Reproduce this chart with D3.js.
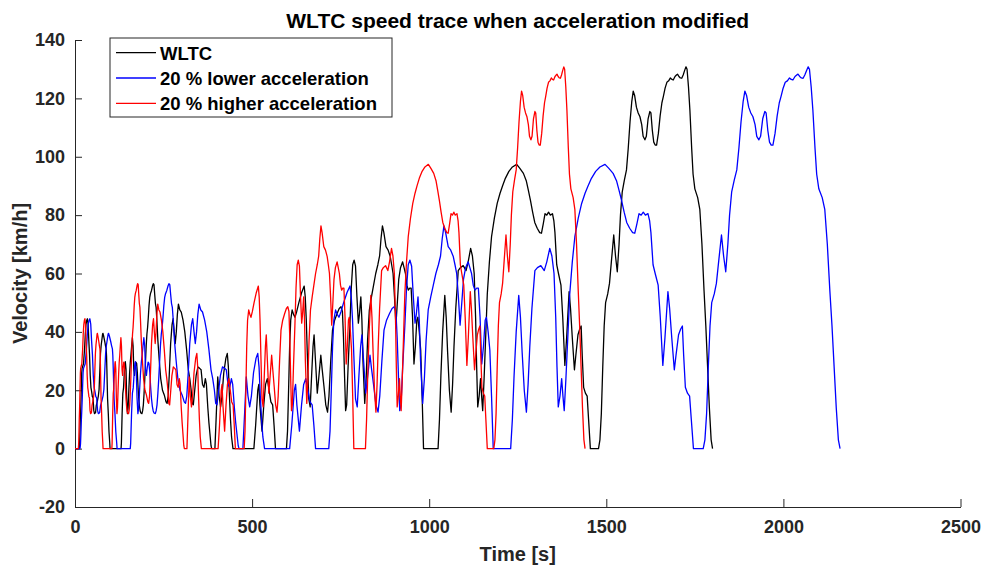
<!DOCTYPE html>
<html>
<head>
<meta charset="utf-8">
<script src="https://cdn.jsdelivr.net/npm/d3@7"></script>
<style>
  body { margin: 0; background: #fff; }
  text { font-family: "Liberation Sans", Arial, Helvetica, sans-serif; }
</style>
</head>
<body>
<script>
// WLTC class 3 speed trace: [time s, speed km/h]
const wltcTrace = [
  [0,0],[11,0],[12,0.2],[13,1.7],[14,5.4],[15,9.9],[16,13.1],[17,16.9],[18,21.7],[19,26],[20,27.5],
  [22,28.3],[24,29.1],[25,30.8],[27,34.1],[29,39.1],[31,42.5],[33,43.9],[35,44.5],[37,42.7],[39,37],
  [41,32.3],[43,25.1],[45,20.9],[47,19.5],[49,17.8],[51,17.4],[53,13.1],[55,12],[58,12.3],[60,14.7],
  [63,16.2],[66,18.1],[68,20.3],[70,26.5],[72,32.6],[74,35.5],[76,37.4],[78,39.3],[79,39.5],[81,38.5],
  [84,36.7],[86,35.3],[88,34.2],[89,31.9],[90,27.3],[91,22],[92,17],[94,12],[96,5.8],[98,2.2],[99,0],
  [130,0],[131,1.9],[133,11.7],[135,18.9],[137,20.8],[139,25.4],[141,29.2],[142,29.8],[144,27.2],
  [146,17.3],[148,12],[150,14.1],[152,20.1],[154,25.5],[156,29.5],[158,32.1],[160,35.2],[162,38],
  [164,35.1],[166,27.1],[168,25.1],[170,27.8],[172,29.6],[174,29.2],[176,26.1],[178,21],[180,17.1],
  [182,14.5],[184,12.9],[186,12.2],[189,12],[191,13],[193,15],[195,19],[197,23.8],[199,29.6],[201,35.2],
  [203,39.2],[205,41.6],[207,45],[209,49],[211,51.8],[213,53.1],[216,54.2],[219,55.8],[221,56.5],
  [223,56.2],[225,52.9],[227,49.8],[229,48.4],[231,44.3],[234,37],[238,30],[242,24],[247,20],[252,18.4],
  [257,16],[260,15.5],[263,18],[266,25],[270,36],[274,42.5],[277,44.5],[280,40],[283,36],[286,40],
  [289,46],[292,49.5],[296,47.5],[300,46.8],[305,44],[310,40],[315,34],[320,27],[324,24],[328,20],
  [331,15.5],[334,15],[338,20],[342,25],[347,28],[352,27.5],[356,27],[360,22],[364,21],[368,24],
  [371,22],[375,14],[378,9],[381,5],[384,1],[386,0],[395,0],[399,12],[403,24.6],[407,18],[411,14.3],
  [415,18],[420,26],[426,31],[430,32.6],[433,28],[436,18],[439,10],[442,4],[446,0],[505,0],[510,8],
  [516,20],[519,22],[522,15],[528,6],[533,15],[538,22],[543,24],[548,20],[553,16],[558,15],[562,8],
  [566,0],[597,0],[600,6],[603,20],[606,35],[609,44],[613,47.5],[617,46],[621,45],[626,47],[632,50],
  [640,53.5],[647,55.7],[650,52],[653,44],[656,32],[660,17],[664,14.3],[668,25],[672,35],[675,39],
  [679,30],[684,19],[688,24],[694,32],[698,27],[703,21.2],[708,15],[713,12.5],[717,18],[722,30],
  [727,40.6],[733,44],[740,46.3],[746,48],[751,48.6],[755,47],[758,38],[761,25],[764,13],[767,15],
  [771,28],[776,42],[780,55],[784,63],[788,64.6],[792,62.5],[796,52],[800,43],[803,46],[807,52],
  [810,44],[813,30],[818,15.5],[822,24],[826,37],[831,47.5],[837,52],[843,56],[849,60],[855,63],
  [860,66],[864,72],[868,76.3],[872,74],[878,69.2],[884,68],[890,65.8],[894,63],[898,60],[902,52],
  [906,42.3],[910,50],[914,58],[919,62],[925,64],[929,62],[933,60],[937,56],[941,54.3],[945,55],
  [949,55],[953,45],[957,29],[961,35],[965,44],[968,45],[972,40],[976,33.8],[980,18],[984,0],
  [1025,0],[1029,10],[1033,25],[1038,40],[1044,52.5],[1048,45],[1052,33],[1057,20],[1062,12.5],
  [1066,22],[1070,35],[1075,48],[1082,61],[1088,62],[1096,62.7],[1104,61],[1110,64],[1117,68.6],
  [1122,66],[1127,60],[1131,45],[1134,28],[1137,14.3],[1141,18],[1145,24],[1148,18],[1151,13],
  [1155,24],[1160,40],[1164,53],[1170,64],[1176,72.6],[1184,79],[1192,84],[1200,87.5],[1207,90],
  [1215,92.6],[1225,95],[1235,96.5],[1247,97.4],[1256,96],[1266,94.3],[1274,91.8],[1280,88.5],
  [1286,85],[1292,81],[1298,77.5],[1305,75.5],[1312,74],[1317,73.8],[1322,77],[1327,80.5],[1332,80],
  [1337,81],[1342,80],[1348,80.5],[1352,78],[1355,74],[1360,63],[1365,60],[1372,56],[1377,45],
  [1383,28.5],[1388,38],[1395,53.8],[1399,48],[1404,38],[1410,27],[1414,32],[1420,39],[1425,41],
  [1429,42],[1432,32],[1436,21],[1441,19],[1446,18],[1450,10],[1455,0],[1478,0],[1482,3],[1486,12],
  [1490,28],[1494,42],[1498,50],[1504,53],[1509,56.6],[1515,65],[1521,73.2],[1526,66],[1531,60.6],
  [1536,70],[1540,80],[1545,88],[1551,92],[1557,95.5],[1562,103],[1567,112],[1572,119],[1576,122.5],
  [1580,121],[1585,117],[1590,115],[1595,113.7],[1600,111],[1604,107],[1609,105.8],[1613,107],
  [1618,113],[1623,115.5],[1626,115],[1630,109],[1634,105],[1638,104],[1642,104],[1647,108],
  [1652,114],[1657,118.5],[1661,120.6],[1666,123.5],[1671,125.5],[1676,126],[1681,127],[1685,126.5],
  [1689,126.3],[1694,127.5],[1698,128],[1701,128.3],[1705,127.5],[1709,127],[1713,126.9],[1717,128],
  [1721,129.5],[1725,130.8],[1728,130],[1732,124],[1736,116],[1741,103],[1745,94],[1750,89],
  [1758,86],[1764,82],[1770,70],[1776,54],[1781,42],[1786,28],[1791,14],[1796,3],[1800,0]
];

// the modified traces are the same speeds on a stretched / squeezed time axis
// (blue ends at 2160 s, red at 1440 s)
const seriesNames = ["WLTC", "20 % lower acceleration", "20 % higher acceleration"];
const seriesTimeFactor = [1, 1.2, 0.8];
const seriesColors = ["#000000", "#0000ff", "#ff0000"];

const xTicks = [0, 500, 1000, 1500, 2000, 2500];
const yTicks = [-20, 0, 20, 40, 60, 80, 100, 120, 140];

const margin = { top: 40, right: 23.5, bottom: 59, left: 75 };
const width = 984 - margin.left - margin.right;
const height = 566 - margin.top - margin.bottom;
const axisColor = "#262626";

const svg = d3
  .select("body")
  .append("svg")
  .attr("width", 984)
  .attr("height", 566);

const g = svg
  .append("g")
  .attr("transform", "translate(" + margin.left + "," + margin.top + ")");

const x = d3.scaleLinear().domain([0, 2500]).range([0, width]);
const y = d3.scaleLinear().domain([-20, 140]).range([height, 0]);

// axes, MATLAB style: ticks pointing inwards, no box, plain number labels
const xAxis = g
  .append("g")
  .attr("transform", "translate(0," + height + ")")
  .call(
    d3.axisBottom(x)
      .tickValues(xTicks)
      .tickFormat((d) => String(d))
      .tickSizeInner(-8)
      .tickSizeOuter(0)
      .tickPadding(13)
  );

const yAxis = g
  .append("g")
  .call(
    d3.axisLeft(y)
      .tickValues(yTicks)
      .tickFormat((d) => String(d))
      .tickSizeInner(-7)
      .tickSizeOuter(0)
      .tickPadding(10)
  );

[xAxis, yAxis].forEach(function (ax) {
  ax.select(".domain").attr("stroke", axisColor).attr("stroke-width", 1);
  ax.selectAll(".tick line").attr("stroke", axisColor).attr("stroke-width", 1);
  ax.selectAll(".tick text")
    .attr("fill", axisColor)
    .style("font-size", "18px")
    .style("font-weight", "bold");
});

// traces
const line = d3
  .line()
  .x((d) => d[0])
  .y((d) => y(d[1]));

seriesNames.forEach(function (name, i) {
  const pts = wltcTrace.map((p) => [x(p[0] * seriesTimeFactor[i]), p[1]]);
  g.append("path")
    .datum(pts)
    .attr("d", line)
    .attr("fill", "none")
    .attr("stroke", seriesColors[i])
    .attr("stroke-width", 1.3)
    .attr("stroke-linejoin", "round");
});

// title and labels
svg
  .append("text")
  .attr("x", margin.left + width / 2)
  .attr("y", 28)
  .attr("text-anchor", "middle")
  .style("font-size", "21px")
  .style("font-weight", "bold")
  .attr("fill", "#000")
  .text("WLTC speed trace when acceleration modified");

svg
  .append("text")
  .attr("x", margin.left + width / 2)
  .attr("y", 561)
  .attr("text-anchor", "middle")
  .style("font-size", "20px")
  .style("font-weight", "bold")
  .attr("fill", axisColor)
  .text("Time [s]");

svg
  .append("text")
  .attr("transform", "translate(27," + (margin.top + height / 2) + ") rotate(-90)")
  .attr("text-anchor", "middle")
  .style("font-size", "20px")
  .style("font-weight", "bold")
  .attr("fill", axisColor)
  .text("Velocity [km/h]");

// legend
const legend = svg.append("g").attr("transform", "translate(110,38)");

legend
  .append("rect")
  .attr("width", 282)
  .attr("height", 79)
  .attr("fill", "#fff")
  .attr("stroke", axisColor)
  .attr("stroke-width", 1);

const items = legend
  .selectAll(".item")
  .data(seriesNames)
  .enter()
  .append("g")
  .attr("class", "item")
  .attr("transform", (d, i) => "translate(0," + (14.7 + i * 25.3) + ")");

items
  .append("line")
  .attr("x1", 6)
  .attr("x2", 46)
  .attr("stroke", (d, i) => seriesColors[i])
  .attr("stroke-width", 1.3);

items
  .append("text")
  .attr("x", 50)
  .attr("y", 7)
  .style("font-size", "18.5px")
  .style("font-weight", "bold")
  .attr("fill", "#000")
  .text((d) => d);
</script>
</body>
</html>
